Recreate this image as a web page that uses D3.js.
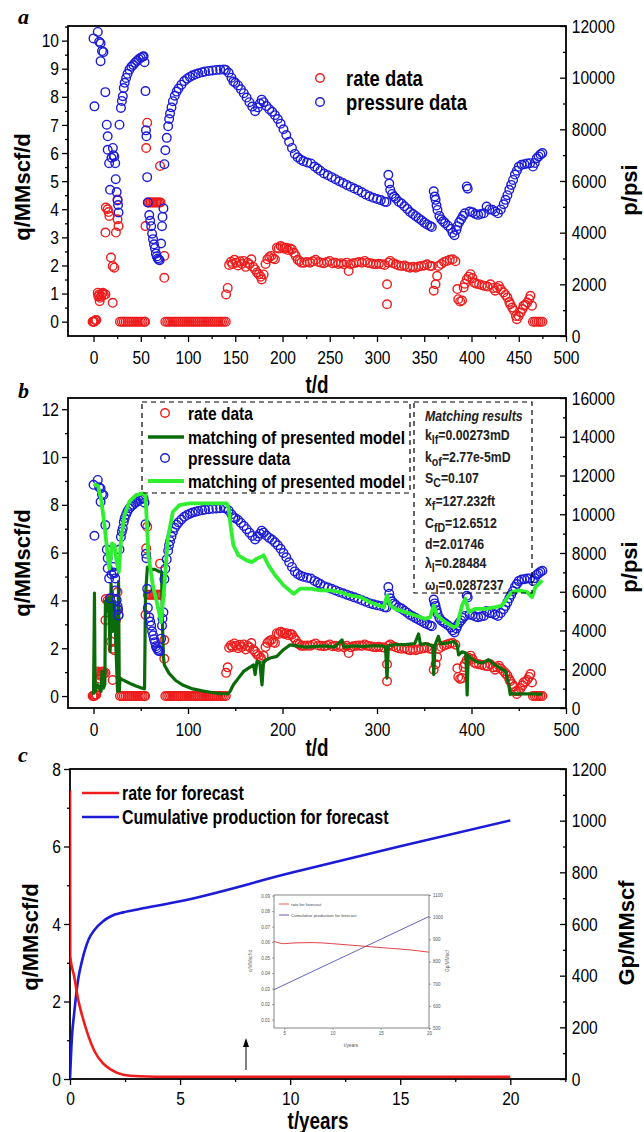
<!DOCTYPE html>
<html>
<head>
<meta charset="utf-8">
<script src="https://cdnjs.cloudflare.com/ajax/libs/d3/7.8.5/d3.min.js"></script>
<style>body{margin:0;background:#fff}</style>
</head>
<body>
<script>
// ---- data ----
// rate data [t (d), q (MMscf/d)]
var rateData = [[-1,0],[0,0],[1,0],[2,0.05],[3,0.06],[4.5,1.03],[5,0.9],[6,0.97],[6.5,0.73],[7,0.85],[8,0.91],[9,1.0],[10,1.03],[11,0.95],[12.6,0.97],
  [13,4.06],[12.6,3.17],[15,4.0],[16,3.9],[16.8,3.76],[18.5,2.28],[20.3,1.98],[20.3,0.67],[22,1.92],[23.7,3.17],[25.4,3.64],[25.4,4.35],[26.5,3.4],
  [28,0],[30,0],[32,0],[34,0],[36,0],[38,0],[40,0],[42,0],[44,0],[46,0],[48,0],[50,0],[52,0],[54,0],[54.6,0],
  [55,3.4],[55.7,6.18],[56.8,7.08],[57.5,4.24],[59,4.24],[60.5,4.24],[62,4.24],[63.5,4.24],[65,4.24],[66.5,4.24],[68,4.24],[69.5,4.24],[71,4.24],
  [70.4,5.54],[74.9,2.34],[74.9,1.56],
  [76,0],[78,0],[80,0],[82,0],[84,0],[86,0],[88,0],[90,0],[92,0],[94,0],[96,0],[98,0],[100,0],[102,0],[104,0],[106,0],[108,0],[110,0],
  [112,0],[114,0],[116,0],[118,0],[120,0],[122,0],[124,0],[126,0],[128,0],[130,0],[132,0],[134,0],[136,0],[138,0],[140,0],
  [140.3,0.97],[142,1.2],[143.5,2.02],[145.5,2.13],[147,2.05],[149,2.2],[151,2.1],[153,2.0],[155,2.15],[157,2.05],[159,2.16],[161,1.95],[163,2.1],
  [165,2.04],[167,2.22],[169,1.95],[171,1.86],[173,1.75],[175,1.68],[177,1.6],[178,1.5],[180,1.68],[182,2.05],[184,2.22],[186,2.3],[188,2.34],
  [190,2.25],[192,2.22],[194,2.63],[196,2.6],[198,2.69],[200,2.65],[202,2.6],[204,2.63],[206,2.55],[208,2.6],[210,2.57],[212,2.45],[214,2.34],
  [216,2.2],[218,2.16],[220,2.1],[223,2.1],[226,2.12],[229,2.1],[232,2.15],[235,2.2],[238,2.12],[241,2.1],[244,2.08],[247,2.12],[250,2.16],
  [253,2.08],[256,2.1],[259,2.05],[262,2.08],[265,2.04],[268,2.1],[270,1.8],[272,2.04],[275,2.08],[278,2.1],[281,2.12],[284,2.1],[287,2.16],
  [290,2.1],[293,2.08],[296,2.05],[299,2.04],[302,2.06],[305,2.04],[308,2.02],[310.6,1.33],[310.6,0.62],[312,2.1],[314,2.16],[317,2.08],
  [320,2.04],[323,2.0],[326,1.98],[329,2.0],[332,1.95],[335,1.92],[338,1.95],[341,1.92],[344,1.96],[347,1.98],[350,2.0],[353,2.04],[356,1.98],
  [358,1.98],[360,1.1],[362,1.33],[363.6,1.63],[365,1.98],[368,2.05],[371,2.12],[374,2.16],[377,2.2],[380,2.22],[383,2.15],[385,1.16],[386,0.8],
  [388,0.72],[390,0.75],[391.7,1.22],[393,1.35],[395,1.51],[397,1.6],[399,1.69],[401,1.55],[403,1.39],[405,1.35],[408,1.33],[411,1.3],[414,1.27],
  [417,1.25],[420,1.33],[423,1.2],[425,1.1],[427,1.2],[429,1.27],[431,1.15],[434,1.04],[436,0.95],[438,0.86],[440,0.7],[441,0.62],[443,0.5],
  [445,0.39],[447,0.2],[448,0.09],[450,0.2],[452,0.33],[454,0.45],[455,0.57],[457,0.6],[459,0.68],[461,0.8],[462.4,0.92],[464,0.57],
  [465,0],[467,0],[469,0],[471,0],[473,0],[475,0]];

// pressure data [t (d), p (psi)]
var pressureData = [[0,11520],[1,8890],[4.5,11770],[6,11390],[7.5,11330],[7.5,10640],[9,11030],[10.5,10990],[12.5,9440],[14,8180],[15,7730],
  [15,7210],[16.5,6690],[17.5,5660],[19,6900],[20.5,7280],[21,7000],[22,6950],[23,6690],[23.5,6070],[24.5,5570],[25.5,5250],[26,5070],[26.5,4780],
  [27.5,8180],[29,8830],[30,9100],[31,9280],[32,9600],[33,9800],[34.5,9990],[36,10150],[38,10310],[40,10420],[42,10490],[44,10580],[46,10650],
  [48,10720],[50,10770],[52,10810],[53,10830],[54,10600],[55,9480],[55.5,7960],[56,7730],[56.8,6150],[57.5,5170],[59,4680],[60,4460],[61,4250],
  [62,3960],[63,3750],[64,3550],[65,3400],[66,3190],[67,3080],[68,3000],[69,2950],[70,2930],[71.5,3580],[72.5,4250],[73,4610],[74,4940],
  [75,6650],[76,7190],[77.5,7670],[79,8120],[80,8400],[81,8610],[82.5,8850],[84,9090],[86,9300],[88,9460],[90,9580],[93,9730],[96,9870],
  [99,9960],[102,10030],[105,10090],[108,10130],[111,10170],[115,10210],[118,10240],[122,10260],[126,10280],[130,10300],[134,10310],[138,10320],
  [140,10300],[143,10190],[146,10000],[148,9850],[150,9800],[153,9700],[156,9550],[159,9400],[162,9230],[165,9050],[168,8880],[171,8700],
  [174,8850],[176,9000],[178,9150],[180,9050],[183,8900],[186,8780],[189,8680],[192,8550],[195,8400],[198,8220],[201,8000],[204,7780],
  [207,7520],[210,7280],[213,7050],[216,6920],[219,6830],[222,6770],[226,6720],[230,6680],[234,6560],[237,6480],[240,6400],[244,6290],
  [248,6220],[252,6150],[256,6070],[260,5990],[264,5920],[268,5850],[272,5780],[276,5710],[280,5640],[284,5560],[288,5480],[292,5410],
  [296,5350],[300,5300],[304,5260],[308,5200],[310,5190],[312,6240],[313,5900],[314,5660],[316,5500],[318,5400],[320,5320],[323,5200],
  [326,5130],[329,5020],[332,4920],[335,4800],[338,4720],[341,4640],[344,4560],[347,4480],[350,4390],[353,4320],[356,4260],[358,4220],
  [360,5600],[361,5400],[362,5270],[363,5050],[364,4880],[366,4650],[368,4520],[370,4440],[372,4370],[375,4270],[378,4150],[380,4000],
  [382,3900],[384,4100],[385,4250],[387,4400],[389,4520],[391,4650],[393,4750],[395,5790],[396,5700],[398,4820],[401,4790],[404,4720],
  [407,4690],[410,4720],[413,4750],[416,5010],[419,4900],[422,4890],[425,4820],[428,4750],[431,4900],[434,5100],[436,5270],[438,5450],
  [440,5660],[442,5850],[444,6040],[446,6250],[448,6400],[450,6550],[453,6630],[456,6650],[459,6680],[462,6690],[465,6560],[467,6700],
  [469,6880],[471,6950],[473,7030],[475,7080]];

// model match, rate [t, q]
var rateModel = [[0,0.05],[0.5,2.0],[1,4.31],[1.5,1.0],[2,0.2],[3,0.45],[4.5,0.47],[6,0.33],[8,0.2],[9,1.03],[10.5,0.33],[12,0.5],[12.6,3.97],
  [14,3.55],[15,4.11],[16,3.76],[17.6,1.87],[18.6,4.7],[20.3,2.7],[22.2,3.97],[23.9,1.87],[25.4,0.2],[26.5,4.8],[27.3,0.2],[28,0.75],[30,0.7],
  [35,0.6],[40,0.5],[45,0.42],[50,0.35],[54,0.3],[55,4.22],[57,5.4],[60,5.3],[65,5.3],[70,5.2],[72,5.2],[73,3.0],[74,1.6],[75,1.3],[80,0.95],
  [87,0.65],[95,0.45],[105,0.3],[115,0.22],[125,0.15],[135,0.1],[142,0.09],[144.6,0.2],[148,0.47],[153.4,0.75],[158.8,1.03],[164,1.17],
  [169.4,1.3],[171,0.9],[173,1.45],[176,1.4],[178.3,0.47],[180,1.45],[187,1.59],[194,1.66],[201,1.94],[208,2.14],[215,2.1],[225,2.05],
  [235,2.08],[245,2.1],[255,2.05],[263,2.35],[265,2.05],[275,2.1],[285,2.08],[295,2.1],[305,2.1],[309,2.05],[310.6,0.75],[312,2.1],[319,2.15],
  [330,2.15],[340,2.2],[344,2.6],[346,2.15],[351,2.2],[359,2.1],[360,0.9],[361.5,2.15],[365,2.5],[367,2.2],[372,2.2],[381,2.28],[384.7,2.15],
  [386.4,1.72],[390,1.85],[394,1.8],[395.4,0.05],[396.5,1.7],[404,1.45],[411,1.38],[418,1.52],[425,1.3],[430.6,1.17],[436,1.03],[439.5,0.47],
  [441,0.06],[442,0.1],[475,0.08]];

// model match, pressure [t, p]
var pressureModel = [[0,11550],[4.5,11480],[8,10820],[11.6,9440],[15,7880],[16.8,7200],[19.7,8490],[22.2,8400],[23.9,7710],[26.8,7020],
  [29.2,8740],[32.8,9960],[38,10650],[45,10990],[52,11080],[55,10990],[56.5,9500],[58,7900],[62.8,6330],[66.2,5640],[71.6,4440],[75,6330],
  [78.6,8740],[84,10130],[91,10470],[101.6,10560],[119,10560],[141,10560],[143,10300],[145,9440],[148,8400],[153.4,7880],[162,7620],
  [167.6,7530],[172.9,7710],[177,7800],[180,7880],[185.2,7360],[192.4,6840],[201.2,6330],[211.8,5900],[218.8,6160],[229.4,6160],[240,6070],
  [250.5,6070],[261.2,5980],[271.7,5810],[282.3,5720],[292.9,5460],[307,5200],[310.6,5810],[314,5290],[320,5100],[330,4950],[340.5,4770],
  [351,4600],[356.3,4690],[360,5290],[363.6,4770],[372.3,4430],[381.2,4170],[384.7,4260],[390,5290],[393.6,5640],[397.1,4950],[404.2,5120],
  [414.8,5120],[425.3,5210],[432.4,5290],[439.5,5810],[443,5980],[450,6070],[458.8,5980],[464,5720],[467.6,6240],[475,6590]];

// forecast [t (years), value]
var forecastRate = [[0,7.45],[0.01,3.17],[0.19,2.65],[0.37,2.05],[0.56,1.62],[0.84,1.1],[1.12,0.71],[1.49,0.41],[1.86,0.24],[2.42,0.11],
  [3.16,0.07],[3.9,0.06],[5,0.06],[10,0.059],[15,0.057],[20,0.054]];
var forecastGp = [[0,0],[0.09,165],[0.19,255],[0.37,385],[0.56,462],[0.84,539],[1.12,578],[1.49,610],[1.86,630],[2.42,645],[3.16,658],
  [5,688],[10,797],[15,901],[20,1001]];
// inset (zoom of the forecast)
var insetRate = [[3.94,0.0605],[5,0.059],[6,0.0595],[8,0.0597],[10,0.059],[12,0.058],[14,0.057],[16,0.056],[18,0.055],[20,0.0535]];
var insetGp = [[3.94,673],[20,1003]];

var matchLines = [["k","lf","=0.00273mD"],["k","of","=2.77e-5mD"],["S","C","=0.107"],["x","f","=127.232ft"],
  ["C","fD","=12.6512"],["d","","=2.01746"],["\u03bb","l","=0.28484"],["\u03c9","l","=0.0287237"]];

// tick values
var aXTicks = [0,50,100,150,200,250,300,350,400,450,500];
var aYLTicks = [0,1,2,3,4,5,6,7,8,9,10];
var aYRTicks = [0,2000,4000,6000,8000,10000,12000];
var bXTicks = [0,100,200,300,400,500];
var bYLTicks = [0,2,4,6,8,10,12];
var bYRTicks = [0,2000,4000,6000,8000,10000,12000,14000,16000];
var cXTicks = [0,5,10,15,20];
var cYLTicks = [0,2,4,6,8];
var cYRTicks = [0,200,400,600,800,1000,1200];

var RED = "#ee1c1c", BLUE = "#1c1cd8", DKGREEN = "#0b6b0b", LTGREEN = "#30ee30";
var SANS = "'Liberation Sans',Arial,sans-serif";
var NX = 0.82; // horizontal squeeze, stands in for Arial Narrow

var svg = d3.select("body").append("svg").attr("width", 644).attr("height", 1132);

// condensed bold-ish text
function ntext(g, x, y, str, fs, bold, anchor) {
  return g.append("text").attr("transform", "translate(" + x + "," + y + ") scale(" + NX + ",1)")
    .attr("font-family", SANS).attr("font-weight", bold ? "bold" : "normal").attr("font-size", fs)
    .attr("text-anchor", anchor || "start").text(str);
}

function styleAxis(sel, fs) {
  sel.select(".domain").remove();
  sel.attr("font-family", SANS).attr("font-size", fs);
  sel.selectAll("line").attr("stroke", "#000").attr("stroke-width", 1.3);
  sel.selectAll("text").attr("fill", "#000").attr("transform", "scale(" + NX + ",1)");
}

function drawPanel(o) {
  var g = svg.append("g");
  var x = d3.scaleLinear().domain(o.xDom).range([o.left, o.right]);
  var yL = d3.scaleLinear().domain(o.yLDom).range([o.bottom, o.top]);
  var yR = d3.scaleLinear().domain(o.yRDom).range([o.bottom, o.top]);
  g.append("clipPath").attr("id", o.id).append("rect")
    .attr("x", o.left).attr("y", o.top).attr("width", o.right - o.left).attr("height", o.bottom - o.top);

  function minors(t, max) {
    var s = t[1] - t[0];
    return t.map(function(v){ return v + s / 2; }).filter(function(v){ return v < max; });
  }
  var fmt = d3.format("d");

  g.append("g").attr("transform", "translate(0," + o.bottom + ")")
    .call(d3.axisBottom(x).tickValues(minors(o.xTicks, o.xDom[1])).tickSize(3).tickFormat(""))
    .call(styleAxis, 19);
  g.append("g").attr("transform", "translate(0," + o.bottom + ")")
    .call(d3.axisBottom(x).tickValues(o.xTicks).tickSize(6).tickPadding(o.xPad).tickFormat(fmt))
    .call(styleAxis, 19);
  g.append("g").attr("transform", "translate(" + o.left + ",0)")
    .call(d3.axisLeft(yL).tickValues(minors(o.yLTicks, o.yLDom[1])).tickSize(3).tickFormat(""))
    .call(styleAxis, 19);
  g.append("g").attr("transform", "translate(" + o.left + ",0)")
    .call(d3.axisLeft(yL).tickValues(o.yLTicks).tickSize(6).tickPadding(5).tickFormat(fmt))
    .call(styleAxis, 19);
  g.append("g").attr("transform", "translate(" + o.right + ",0)")
    .call(d3.axisRight(yR).tickValues(minors(o.yRTicks, o.yRDom[1])).tickSize(-3).tickFormat(""))
    .call(styleAxis, 19);
  g.append("g").attr("transform", "translate(" + o.right + ",0)")
    .call(d3.axisRight(yR).tickValues(o.yRTicks).tickSize(-6).tickPadding(7).tickFormat(fmt))
    .call(styleAxis, 19);

  g.append("rect").attr("x", o.left).attr("y", o.top).attr("width", o.right - o.left).attr("height", o.bottom - o.top)
    .attr("fill", "none").attr("stroke", "#000").attr("stroke-width", 1.8);

  // titles
  ntext(g, (o.left + o.right) / 2, o.xTitleY, o.xTitle, 23, true, "middle");
  g.append("text").attr("transform", "translate(" + o.yLTitleX + "," + o.yLTitleY + ") rotate(-90)").attr("text-anchor", "middle")
    .attr("font-family", SANS).attr("font-weight", "bold").attr("font-size", 22).text(o.yLTitle);
  g.append("text").attr("transform", "translate(" + o.yRTitleX + "," + o.yRTitleY + ") rotate(-90)").attr("text-anchor", "middle")
    .attr("font-family", SANS).attr("font-weight", "bold").attr("font-size", 22).text(o.yRTitle);
  g.append("text").attr("x", 18).attr("y", o.labelY).attr("font-family", "'Liberation Serif','Times New Roman',serif")
    .attr("font-weight", "bold").attr("font-style", "italic").attr("font-size", 22).text(o.label);

  var plot = g.append("g").attr("clip-path", "url(#" + o.id + ")");
  return {g: g, plot: plot, x: x, yL: yL, yR: yR};
}

function scatter(p, data, y, color) {
  p.plot.append("g").selectAll("circle").data(data).enter().append("circle")
    .attr("cx", function(d){ return p.x(d[0]); }).attr("cy", function(d){ return y(d[1]); })
    .attr("r", 4.3).attr("fill", "none").attr("stroke", color).attr("stroke-width", 1.4);
}

function markerCircle(g, cx, cy, color) {
  g.append("circle").attr("cx", cx).attr("cy", cy).attr("r", 4.3).attr("fill", "none")
    .attr("stroke", color).attr("stroke-width", 1.4);
}

// ---- panel a ----
var pa = drawPanel({id: "clipA", left: 68, right: 566, top: 26, bottom: 336,
  xDom: [-27, 500], yLDom: [-0.51, 10.52], yRDom: [0, 12000],
  xTicks: aXTicks, yLTicks: aYLTicks, yRTicks: aYRTicks, xPad: 9,
  xTitle: "t/d", xTitleY: 393, yLTitle: "q/MMscf/d", yLTitleX: 30, yLTitleY: 187,
  yRTitle: "p/psi", yRTitleX: 637, yRTitleY: 190, label: "a", labelY: 24});
scatter(pa, rateData, pa.yL, RED);
scatter(pa, pressureData, pa.yR, BLUE);
markerCircle(pa.g, 320, 78, RED);
markerCircle(pa.g, 320, 102, BLUE);
ntext(pa.g, 346, 86, "rate data", 22.5, true);
ntext(pa.g, 346, 110, "pressure data", 22.5, true);

// ---- panel b ----
var pb = drawPanel({id: "clipB", left: 68, right: 566, top: 398, bottom: 708,
  xDom: [-27, 500], yLDom: [-0.5, 12.47], yRDom: [0, 16000],
  xTicks: bXTicks, yLTicks: bYLTicks, yRTicks: bYRTicks, xPad: 9,
  xTitle: "t/d", xTitleY: 756, yLTitle: "q/MMscf/d", yLTitleX: 30, yLTitleY: 563,
  yRTitle: "p/psi", yRTitleX: 637, yRTitleY: 567, label: "b", labelY: 398});
var lineB = function(y) {
  return d3.line().x(function(d){ return pb.x(d[0]); }).y(function(d){ return y(d[1]); });
};
scatter(pb, rateData, pb.yL, RED);
pb.plot.append("path").attr("d", lineB(pb.yL)(rateModel)).attr("fill", "none").attr("stroke", DKGREEN)
  .attr("stroke-width", 3.2).attr("stroke-linejoin", "round");
scatter(pb, pressureData, pb.yR, BLUE);
pb.plot.append("path").attr("d", lineB(pb.yR)(pressureModel)).attr("fill", "none").attr("stroke", LTGREEN)
  .attr("stroke-width", 3.8).attr("stroke-linejoin", "round");

// legend boxes
pb.g.append("rect").attr("x", 142).attr("y", 402).attr("width", 268).attr("height", 91)
  .attr("fill", "none").attr("stroke", "#000").attr("stroke-width", 1.2).attr("stroke-dasharray", "5,4");
pb.g.append("rect").attr("x", 414).attr("y", 402).attr("width", 118).attr("height", 191)
  .attr("fill", "none").attr("stroke", "#000").attr("stroke-width", 1.2).attr("stroke-dasharray", "5,4");
markerCircle(pb.g, 165, 413, RED);
pb.g.append("line").attr("x1", 148).attr("x2", 184).attr("y1", 437).attr("y2", 437).attr("stroke", DKGREEN).attr("stroke-width", 3.5);
markerCircle(pb.g, 165, 458, BLUE);
pb.g.append("line").attr("x1", 148).attr("x2", 184).attr("y1", 481).attr("y2", 481).attr("stroke", LTGREEN).attr("stroke-width", 3.8);
ntext(pb.g, 188, 420, "rate data", 19, true);
ntext(pb.g, 188, 444, "matching of presented model", 19, true);
ntext(pb.g, 188, 465, "pressure data", 19, true);
ntext(pb.g, 188, 488, "matching of presented model", 19, true);

ntext(pb.g, 425, 421, "Matching results", 15, true).attr("font-style", "italic").attr("fill", "#222");
var mBase = [440, 462, 483, 506, 528, 549, 568, 590];
matchLines.forEach(function(m, i) {
  var t = ntext(pb.g, 425, mBase[i], "", 15, true).attr("fill", "#222");
  t.append("tspan").text(m[0]);
  if (m[1]) {
    t.append("tspan").attr("dy", 4).attr("font-size", 13).text(m[1]);
    t.append("tspan").attr("dy", -4).text(m[2]);
  } else {
    t.append("tspan").text(m[2]);
  }
});

// ---- panel c ----
var pc = drawPanel({id: "clipC", left: 70, right: 566, top: 769, bottom: 1079,
  xDom: [0, 22.53], yLDom: [0, 8], yRDom: [0, 1200],
  xTicks: cXTicks, yLTicks: cYLTicks, yRTicks: cYRTicks, xPad: 7,
  xTitle: "t/years", xTitleY: 1129, yLTitle: "q/MMscf/d", yLTitleX: 38, yLTitleY: 937,
  yRTitle: "Gp/MMscf", yRTitleX: 634, yRTitleY: 933, label: "c", labelY: 762});
var lineC = function(y) {
  return d3.line().curve(d3.curveMonotoneX).x(function(d){ return pc.x(d[0]); }).y(function(d){ return y(d[1]); });
};
pc.plot.append("path").attr("d", lineC(pc.yR)(forecastGp)).attr("fill", "none").attr("stroke", BLUE).attr("stroke-width", 2.6);
pc.plot.append("path").attr("d", lineC(pc.yL)(forecastRate)).attr("fill", "none").attr("stroke", RED).attr("stroke-width", 2.6);
pc.g.append("line").attr("x1", 82).attr("x2", 119).attr("y1", 793).attr("y2", 793).attr("stroke", RED).attr("stroke-width", 2.6);
pc.g.append("line").attr("x1", 82).attr("x2", 119).attr("y1", 817).attr("y2", 817).attr("stroke", BLUE).attr("stroke-width", 2.6);
ntext(pc.g, 122, 800, "rate for forecast", 19.5, true);
ntext(pc.g, 122, 824, "Cumulative production for forecast", 19.5, true);

// arrow
pc.g.append("line").attr("x1", 246).attr("x2", 246).attr("y1", 1070).attr("y2", 1044).attr("stroke", "#000").attr("stroke-width", 1);
pc.g.append("path").attr("d", "M246,1038 L243,1047 L249,1047 Z").attr("fill", "#000");

// inset
var ins = {left: 274, right: 429, top: 895, bottom: 1028};
var ix = d3.scaleLinear().domain([3.94, 20]).range([ins.left, ins.right]);
var iyL = d3.scaleLinear().domain([0.0046, 0.0904]).range([ins.bottom, ins.top]);
var iyR = d3.scaleLinear().domain([500, 1100]).range([ins.bottom, ins.top]);
var ig = svg.append("g");
function styleInset(sel) {
  sel.select(".domain").remove();
  sel.attr("font-family", SANS).attr("font-size", 4.5);
  sel.selectAll("line").attr("stroke", "#666").attr("stroke-width", 0.6);
  sel.selectAll("text").attr("fill", "#555");
}
ig.append("g").attr("transform", "translate(0," + ins.bottom + ")")
  .call(d3.axisBottom(ix).tickValues([5, 10, 15, 20]).tickSize(2).tickPadding(2)).call(styleInset);
ig.append("g").attr("transform", "translate(" + ins.left + ",0)")
  .call(d3.axisLeft(iyL).tickValues([0.01,0.02,0.03,0.04,0.05,0.06,0.07,0.08,0.09]).tickSize(2).tickPadding(2).tickFormat(d3.format(".2f")))
  .call(styleInset);
ig.append("g").attr("transform", "translate(" + ins.right + ",0)")
  .call(d3.axisRight(iyR).tickValues([500,600,700,800,900,1000,1100]).tickSize(2).tickPadding(2).tickFormat(d3.format("d")))
  .call(styleInset);
ig.append("rect").attr("x", ins.left).attr("y", ins.top).attr("width", ins.right - ins.left).attr("height", ins.bottom - ins.top)
  .attr("fill", "none").attr("stroke", "#666").attr("stroke-width", 0.8);
var iline = function(y) {
  return d3.line().curve(d3.curveMonotoneX).x(function(d){ return ix(d[0]); }).y(function(d){ return y(d[1]); });
};
ig.append("path").attr("d", iline(iyR)(insetGp)).attr("fill", "none").attr("stroke", "#3a3aa8").attr("stroke-width", 0.8);
ig.append("path").attr("d", iline(iyL)(insetRate)).attr("fill", "none").attr("stroke", "#e03030").attr("stroke-width", 0.9);
ig.append("line").attr("x1", 279).attr("x2", 289).attr("y1", 904).attr("y2", 904).attr("stroke", "#e03030").attr("stroke-width", 0.8);
ig.append("line").attr("x1", 279).attr("x2", 289).attr("y1", 915).attr("y2", 915).attr("stroke", "#3a3aa8").attr("stroke-width", 0.8);
ig.append("text").attr("x", 291).attr("y", 905.5).attr("font-family", SANS).attr("font-size", 4.3).attr("fill", "#444").text("rate for forecast");
ig.append("text").attr("x", 291).attr("y", 916.5).attr("font-family", SANS).attr("font-size", 4.3).attr("fill", "#444").text("Cumulative production for forecast");
ig.append("text").attr("x", 351).attr("y", 1047).attr("text-anchor", "middle").attr("font-family", SANS).attr("font-size", 4.8).attr("fill", "#555").text("t/years");
ig.append("text").attr("transform", "translate(252,961) rotate(-90)").attr("text-anchor", "middle").attr("font-family", SANS)
  .attr("font-size", 4.8).attr("fill", "#555").text("q/MMscf/d");
ig.append("text").attr("transform", "translate(449,961) rotate(-90)").attr("text-anchor", "middle").attr("font-family", SANS)
  .attr("font-size", 4.8).attr("fill", "#555").text("Gp/MMscf");
</script>
</body>
</html>
